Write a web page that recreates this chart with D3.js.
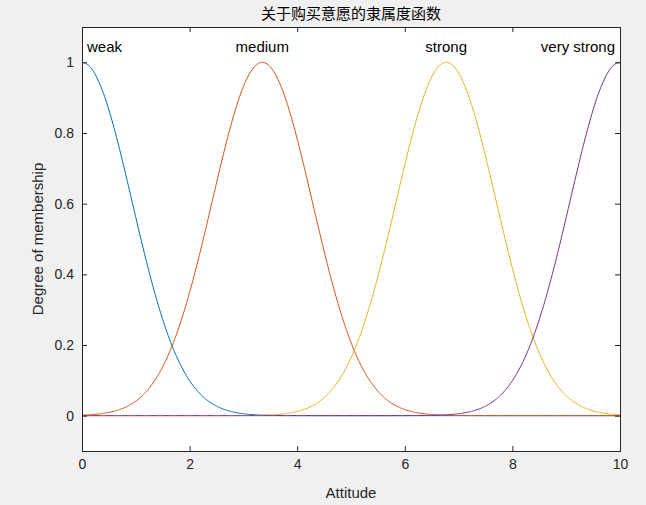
<!DOCTYPE html><html><head><meta charset="utf-8">
<script src="https://cdn.jsdelivr.net/npm/d3@7"></script>
<style>body{margin:0;background:#f0f0f0}</style></head><body>
<svg id="c" width="646" height="505"></svg>
<script>
const mfNames=["weak","medium","strong","very strong"];
const mfCenters=[0,3.35,6.77,10];
const mfSigmas=[0.93,0.93,0.93,0.93];
const colors=["#0072BD","#D95319","#EDB120","#7E2F8E"];
const xTicks=[0,2,4,6,8,10];
const yTicks=[0,0.2,0.4,0.6,0.8,1];
const svg=d3.select("#c");
const L=82,R=620,T=27,B=451;
const x=d3.scaleLinear().domain([0,10]).range([L,R]);
const y=d3.scaleLinear().domain([-0.1,1.1]).range([B,T]);
svg.append("rect").attr("x",L).attr("y",T).attr("width",R-L).attr("height",B-T).attr("fill","#fff");
const xs=d3.range(0,10.0001,0.02);
mfNames.forEach((n,i)=>{
  const line=d3.line().x(d=>x(d)).y(d=>y(Math.exp(-((d-mfCenters[i])**2)/(2*mfSigmas[i]**2))));
  svg.append("path").datum(xs).attr("d",line).attr("fill","none").attr("stroke",colors[i]).attr("stroke-width",1);
});
const font="Helvetica, Arial, 'Liberation Sans', sans-serif";
svg.append("g").attr("transform",`translate(0,${B})`).call(d3.axisBottom(x).tickValues(xTicks).tickSize(-5).tickPadding(8));
svg.append("g").attr("transform",`translate(${L},0)`).call(d3.axisLeft(y).tickValues(yTicks).tickSize(-5).tickPadding(8).tickFormat(d3.format("")));
svg.append("g").attr("transform",`translate(0,${T})`).call(d3.axisTop(x).tickValues(xTicks).tickSize(-5).tickFormat(""));
svg.append("g").attr("transform",`translate(${R},0)`).call(d3.axisRight(y).tickValues(yTicks).tickSize(-5).tickFormat(""));
svg.selectAll(".domain,.tick line").attr("stroke","#262626");
svg.selectAll(".tick text").attr("fill","#262626").attr("font-size",14).attr("font-family",font);
mfNames.forEach((n,i)=>{
  const anchor=i==0?"start":(i==3?"end":"middle");
  const px=i==0?x(0)+5:(i==3?x(10)-5:x(mfCenters[i]));
  svg.append("text").attr("x",px).attr("y",52).attr("text-anchor",anchor).attr("font-size",15).attr("font-family",font).attr("fill","#000").text(n);
});
svg.append("text").attr("x",(L+R)/2).attr("y",19).attr("text-anchor","middle").attr("font-size",15).attr("font-family","'Noto Sans CJK SC'").attr("fill","#000").text("关于购买意愿的隶属度函数");
svg.append("text").attr("x",(L+R)/2).attr("y",498).attr("text-anchor","middle").attr("font-size",15).attr("font-family",font).attr("fill","#262626").text("Attitude");
svg.append("text").attr("transform",`translate(43,${(T+B)/2}) rotate(-90)`).attr("text-anchor","middle").attr("font-size",15).attr("font-family",font).attr("fill","#262626").text("Degree of membership");
</script></body></html>
